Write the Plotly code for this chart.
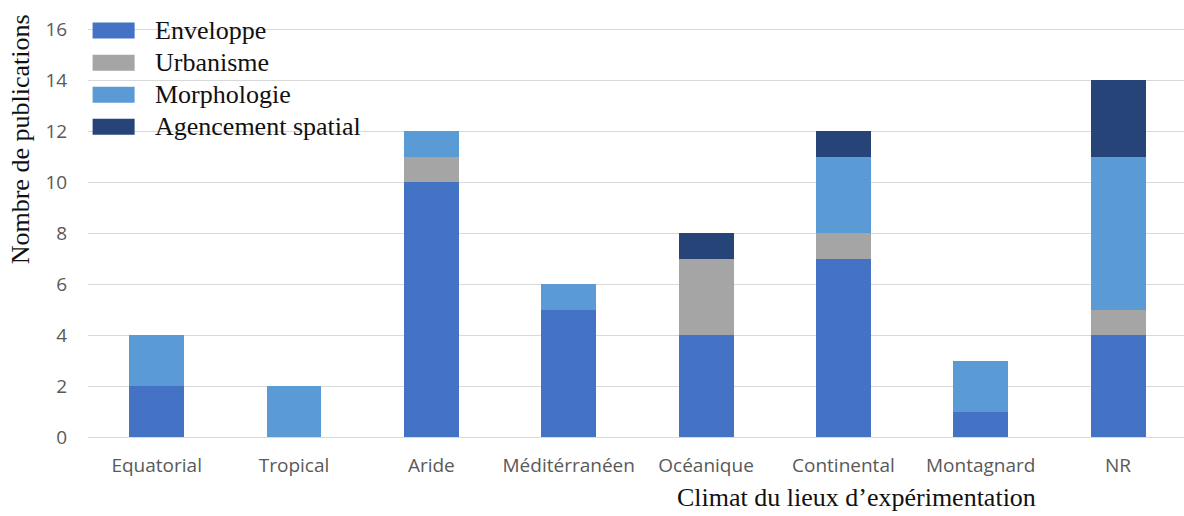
import plotly.graph_objects as go

categories = ["Equatorial", "Tropical", "Aride", "Méditérranéen", "Océanique",
              "Continental", "Montagnard", "NR"]
series_names = ["Enveloppe", "Urbanisme", "Morphologie", "Agencement spatial"]
enveloppe = [2, 0, 10, 5, 4, 7, 1, 4]
urbanisme = [0, 0, 1, 0, 3, 1, 0, 1]
morphologie = [2, 2, 1, 1, 0, 3, 2, 6]
agencement = [0, 0, 0, 0, 1, 1, 0, 3]
y_ticks = [0, 2, 4, 6, 8, 10, 12, 14, 16]

colors = ["#4472C4", "#A5A5A5", "#5B9BD5", "#264478"]
series = [enveloppe, urbanisme, morphologie, agencement]

W, H = 1184, 516
L, R, T, B = 88.4, 0, 27.4, 79
pw = W - L - R
ph = H - T - B

def px2x(px):
    return (px - L) / pw

def py2y(py):
    return (H - B - py) / ph

fig = go.Figure()
for name, vals, c in zip(series_names, series, colors):
    fig.add_trace(go.Bar(x=categories, y=vals, name=name, marker_color=c,
                         marker_line_width=0, width=0.4, showlegend=False))

# manual legend
serif = "Liberation Serif, Times New Roman, serif"
row_y = [31, 63, 95, 127]
for name, c, ry in zip(series_names, colors, row_y):
    fig.add_shape(type="rect", xref="paper", yref="paper",
                  x0=px2x(93), x1=px2x(135), y0=py2y(ry + 8), y1=py2y(ry - 8),
                  fillcolor=c, line_width=0)
    fig.add_annotation(text=name, xref="paper", yref="paper", x=px2x(153),
                       y=py2y(ry), xanchor="left", yanchor="middle", showarrow=False,
                       font=dict(family=serif, size=26, color="#111111"))

fig.add_annotation(text="Nombre de publications", xref="paper", yref="paper",
                   x=px2x(21), y=py2y(140), textangle=-90, showarrow=False,
                   xanchor="center", yanchor="middle",
                   font=dict(family=serif, size=26, color="#111111"))
fig.add_annotation(text="Climat du lieux d’expérimentation", xref="paper", yref="paper",
                   x=px2x(857), y=py2y(497), showarrow=False,
                   xanchor="center", yanchor="middle",
                   font=dict(family=serif, size=26, color="#111111"))

tickfont = dict(family="Open Sans, Noto Sans, sans-serif", size=19, color="#595959")
fig.update_layout(
    barmode="stack",
    width=W, height=H,
    margin=dict(l=L, r=R, t=T, b=B, pad=0),
    paper_bgcolor="white", plot_bgcolor="white",
    xaxis=dict(range=[-0.5, 7.48], showgrid=False, showline=False, zeroline=False,
               ticks="outside", ticklen=11, tickcolor="rgba(0,0,0,0)",
               tickfont=tickfont),
    yaxis=dict(range=[0, 16.1], tickvals=y_ticks, showgrid=True, gridcolor="#D9D9D9",
               gridwidth=1, zeroline=True, zerolinecolor="#D9D9D9", zerolinewidth=1,
               showline=False, ticks="outside", ticklen=16, tickcolor="rgba(0,0,0,0)",
               tickfont=tickfont),
    bargap=0,
)

fig.write_html("out.html", config={"displayModeBar": False},
               post_script="document.body.style.margin='0';document.body.style.overflow='hidden';")
